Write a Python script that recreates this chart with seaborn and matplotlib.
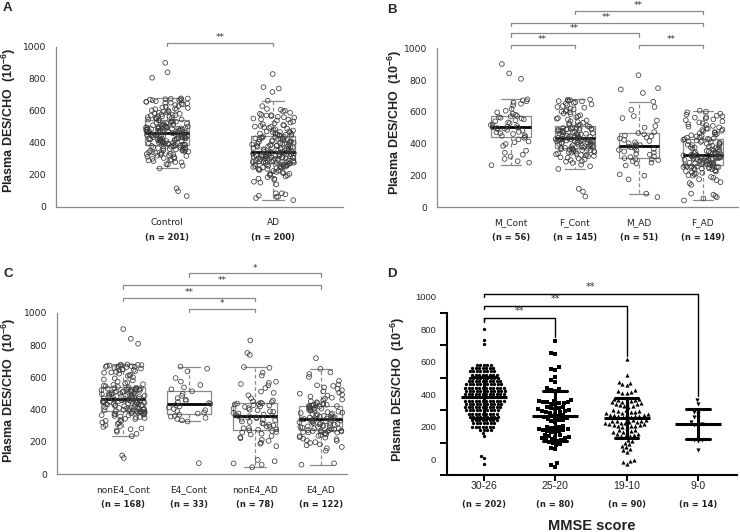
import warnings
import numpy as np
import pandas as pd
import matplotlib
matplotlib.use("Agg")
import matplotlib.pyplot as plt
import seaborn as sns

warnings.filterwarnings("ignore")

# ---------------------------------------------------------------
# values (plasma DES/CHO, x 10^-6)
# ---------------------------------------------------------------
sex_groups = ["M_Cont", "F_Cont", "M_AD", "F_AD"]
apoe_groups = ["nonE4_Cont", "E4_Cont", "nonE4_AD", "E4_AD"]
dx_groups = ["Control", "AD"]
mmse_groups = ["30-26", "25-20", "19-10", "9-0"]

M_CONT = [265, 281, 290, 304, 319, 331, 343, 356, 386, 398, 409, 414, 427, 437,
          443, 449, 453, 461, 466, 471, 474, 483, 487, 492, 495, 498, 501, 503,
          506, 511, 517, 521, 529, 534, 541, 547, 553, 559, 563, 567, 571, 575,
          582, 589, 597, 607, 619, 641, 651, 658, 667, 673, 679, 808, 842, 901]
F_CONT = [68, 99, 116, 241, 258, 268, 279, 287, 291, 297, 301, 306, 312, 314, 321, 323, 326, 329, 331, 334,
          337, 339, 343, 346, 347, 351, 353, 354, 358, 360, 362, 364, 366, 368, 369, 372, 374, 376, 378, 380,
          382, 384, 386, 389, 390, 392, 394, 397, 398, 401, 402, 405, 406, 408, 410, 412, 414, 416, 417, 419,
          420, 421, 422, 424, 425, 426, 427, 428, 429, 431, 433, 434, 436, 438, 441, 443, 444, 446, 448, 451,
          453, 456, 458, 461, 463, 465, 467, 469, 471, 473, 476, 477, 479, 481, 483, 485, 487, 489, 490, 491,
          493, 494, 496, 497, 498, 499, 503, 507, 512, 515, 519, 523, 527, 532, 536, 541, 546, 552, 557, 561,
          567, 573, 579, 586, 591, 597, 602, 604, 611, 616, 622, 627, 631, 637, 643, 647, 652, 657, 661, 666,
          668, 671, 674, 676, 678]
M_AD = [64, 86, 176, 199, 207, 263, 276, 281, 289, 297, 301, 304, 309,
        316, 321, 331, 337, 344, 351, 357, 361, 367, 373, 377, 382, 386,
        391, 396, 403, 409, 417, 424, 433, 439, 446, 451, 459, 467,
        473, 501, 511, 546, 561, 574, 613, 631, 664, 719, 741, 749, 831]
F_AD = [43, 56, 63, 71, 79, 86, 141, 152, 158, 171, 177, 186, 191, 199, 202, 209, 211, 217, 219, 225,
        227, 232, 233, 238, 239, 243, 245, 247, 249, 250, 252, 253, 254, 256, 257, 258, 261, 263, 266, 267,
        269, 272, 273, 276, 277, 280, 281, 284, 285, 288, 289, 291, 294, 295, 298, 299, 302, 303, 305, 307,
        308, 310, 311, 313, 314, 316, 317, 318, 319, 321, 322, 323, 324, 326, 327, 329, 331, 334, 337, 339,
        341, 344, 346, 349, 352, 355, 357, 361, 364, 366, 369, 373, 376, 379, 382, 385, 388, 391, 394, 397,
        399, 402, 406, 409, 411, 415, 418, 421, 424, 427, 429, 431, 434, 438, 441, 446, 449, 453, 457, 461,
        466, 469, 473, 478, 481, 486, 489, 494, 498, 503, 507, 512, 517, 523, 528, 534, 541, 548, 553, 559,
        564, 568, 572, 576, 583, 589, 597, 602, 608]

NONE4_CONT = [101, 117, 236, 251, 263, 271, 279, 284, 293, 297, 303, 311, 317, 321, 328, 331, 336, 342, 344, 348,
              352, 355, 358, 361, 364, 366, 369, 371, 373, 375, 377, 379, 381, 382, 383, 385, 386, 387, 388, 390,
              391, 393, 395, 397, 399, 401, 403, 404, 406, 409, 411, 413, 414, 416, 419, 421, 423, 425, 427, 428,
              430, 432, 434, 435, 437, 439, 441, 442, 444, 446, 447, 449, 450, 452, 453, 454, 455, 456, 457, 458,
              459, 460, 462, 464, 466, 468, 469, 471, 473, 475, 477, 479, 481, 483, 485, 487, 489, 491, 493, 495,
              496, 498, 499, 501, 503, 504, 506, 508, 509, 511, 513, 514, 516, 518, 519, 521, 523, 524, 526, 528,
              530, 531, 533, 534, 536, 538, 541, 545, 549, 554, 558, 563, 569, 574, 581, 587, 594, 601, 609, 616,
              623, 629, 634, 639, 644, 648, 651, 655, 659, 662, 665, 667, 669, 671, 673, 675, 677, 679, 680, 676,
              612, 631, 646, 658, 666, 808, 839, 899]
E4_CONT = [69, 327, 334, 343, 349, 357, 361, 369, 376, 383, 391, 397, 404, 413, 421, 429, 436,
           441, 448, 454, 463, 471, 486, 499, 514, 526, 538, 553, 574, 596, 638, 654, 667]
NONE4_AD = [44, 59, 67, 81, 89, 174, 189, 196, 207, 213, 223, 229, 237, 246, 251, 259, 262, 268, 272, 276,
            278, 285, 287, 294, 296, 303, 306, 313, 317, 324, 327, 334, 337, 343, 347, 351, 353, 358, 359,
            363, 367, 370, 377, 380, 387, 390, 397, 400, 407, 410, 417, 420, 426, 428, 433, 434, 438, 439,
            443, 447, 452, 457, 471, 489, 504, 512, 534, 551, 559, 566, 573, 611, 629, 659, 664, 739, 751, 829]
E4_AD = [59, 68, 146, 161, 169, 179, 185, 194, 199, 207, 210, 217, 220, 227, 230, 236, 238, 244, 246, 252,
         253, 258, 259, 261, 263, 265, 266, 267, 268, 270, 273, 274, 277, 279, 282, 284, 287, 289, 292, 294,
         297, 299, 302, 304, 307, 309, 312, 314, 317, 319, 322, 324, 327, 329, 331, 333, 336, 338, 340, 342,
         344, 346, 347, 349, 351, 353, 355, 358, 361, 364, 367, 370, 373, 376, 379, 382, 385, 388, 391, 394,
         397, 400, 403, 406, 409, 411, 414, 417, 419, 422, 424, 426, 428, 429, 431, 434, 437, 441, 446, 452,
         458, 463, 469, 474, 481, 487, 493, 499, 506, 514, 521, 529, 538, 547, 551, 603, 621, 631, 653, 719,
         556, 578]

# MMSE 30-26 is stacked in rows: row value and number of dots in that row
MMSE_TOP_LEVELS = [800, 735, 705, 580, 560, 540, 520, 500, 480, 460, 440, 420, 400, 380, 360,
                   340, 320, 300, 280, 260, 240, 220, 200, 180, 160, 140, 20, 5, -30]
MMSE_TOP_COUNTS = [1, 1, 1, 5, 7, 8, 8, 9, 10, 11, 12, 12, 12, 12, 12,
                   11, 11, 10, 9, 9, 8, 7, 7, 4, 1, 1, 1, 1, 1]
MMSE_25_20 = [728, 651, 645, 564, 556, 549, 506, 487, 476, 437, 431, 424, 419,
              363, 360, 357, 354, 351, 348, 346, 343, 340, 337,
              322, 319, 316, 312, 309, 305, 301, 298, 295, 292, 289, 286,
              270, 266, 262, 258, 254, 250, 246, 243, 240, 236,
              199, 196, 193, 190, 186, 183, 180, 177, 174, 171, 168, 165,
              148, 145, 141, 138, 135, 131, 128, 124, 121, 118,
              100, 92, 84, 71, 60, 105, 112, -25, -38, -47, 205, 225, 280]
MMSE_19_10 = [613, 517, 476, 468, 461, 455, 425, 418, 411, 404, 408,
              374, 371, 368, 364, 361, 357, 354, 350, 347, 343, 340, 336, 333, 329, 326, 322,
              302, 299, 297, 294, 291, 288, 285, 282, 280, 277, 274, 271, 268, 266, 263, 261, 260, 265,
              240, 237, 235, 232, 229, 227, 224, 221, 219, 216, 213, 211, 208, 206, 203, 201, 199, 238,
              179, 176, 172, 168, 164, 160, 156, 152, 148, 144, 140, 137,
              117, 108, 99, 90, 81, 72, 63, 54, 45, -6, -13, -20, -28, 250, 195]
MMSE_9_0 = [363, 338, 290, 280, 260, 250, 225, 215, 210, 200, 120, 115, 110, 56]

# significance brackets: (left group, right group, star text)
DX_SIG = [(0, 1, "**")]
SEX_SIG = [(0, 1, "**"), (2, 3, "**"), (0, 2, "**"), (0, 3, "**"), (1, 3, "**")]
APOE_SIG = [(1, 2, "*"), (0, 2, "**"), (0, 3, "**"), (1, 3, "*")]
MMSE_SIG = [(0, 3, "**"), (0, 2, "**"), (0, 1, "**")]

# ---------------------------------------------------------------
sns.set_style("white")
plt.rcParams["font.family"] = ["DejaVu Sans"]
plt.rcParams["mathtext.default"] = "regular"

GRAY = "#8a8a8a"
EDGE = "#3c3c3c"
ARIAL = ["Liberation Sans", "DejaVu Sans"]
YLABEL = "Plasma DES/CHO  (10$^{-6}$)"
PX = 0.72  # points per pixel at 100 dpi


def long_df(names, lists):
    return pd.DataFrame({"group": np.repeat(names, [len(v) for v in lists]),
                         "value": np.concatenate([np.asarray(v, float) for v in lists])})


def group_labels(ax, names, ns, first_dy, second_dy, size1=6.5, size2=6.0, fam=None):
    for i, (name, n) in enumerate(zip(names, ns)):
        ax.annotate(name, xy=(i, 0), xycoords=("data", "axes fraction"),
                    xytext=(0, -first_dy * PX), textcoords="offset points",
                    ha="center", va="center", fontsize=size1, color="#222222",
                    family=fam or ["DejaVu Sans"])
        ax.annotate(f"(n = {n})", xy=(i, 0), xycoords=("data", "axes fraction"),
                    xytext=(0, -second_dy * PX), textcoords="offset points",
                    ha="center", va="center", fontsize=size2, fontweight="bold",
                    color="#222222", family=["DejaVu Sans"])


def box_panel(ax, names, lists, width, jitter, ymax, xlim, sig, sig_y, label_xy):
    df = long_df(names, lists)
    sns.boxplot(data=df, x="group", y="value", order=names, width=width,
                showfliers=False, fill=False, color=GRAY, linewidth=0.9, whis=1.5,
                medianprops=dict(color="black", linewidth=2.0),
                whiskerprops=dict(linestyle=(0, (3, 2))), ax=ax)
    sns.stripplot(data=df, x="group", y="value", order=names, jitter=jitter,
                  size=3.4, color="white", edgecolor=EDGE, linewidth=0.55, ax=ax)
    for coll in ax.collections:
        coll.set_facecolor("none")

    ax.set_xlim(*xlim)
    ax.set_ylim(0, ymax)
    ax.set_yticks(range(0, 1001, 200))
    ax.tick_params(axis="y", length=0, pad=7, labelsize=6.6, labelcolor="#222222")
    ax.tick_params(axis="x", length=2.5, width=0.8, color=GRAY, labelbottom=False)
    for s in ["top", "right"]:
        ax.spines[s].set_visible(False)
    for s in ["left", "bottom"]:
        ax.spines[s].set_color(GRAY)
        ax.spines[s].set_linewidth(0.9)
    ax.spines["left"].set_bounds(0, 1000)
    ax.set_xlabel("")
    ax.set_ylabel(YLABEL, fontsize=9, fontweight="bold", family=ARIAL, color="#222222")
    ax.yaxis.set_label_coords(*label_xy)
    group_labels(ax, names, [len(v) for v in lists], 15.5, 30.5)

    for (a, b, txt), y in zip(sig, sig_y):
        ax.plot([a, a, b, b], [y - 20, y, y, y - 20], color=GRAY, lw=0.9, clip_on=False)
        ax.text((a + b) / 2, y + 4, txt, ha="center", va="bottom", fontsize=6.5,
                color="#333333")


fig = plt.figure(figsize=(7.4, 5.32), dpi=100)

# A
axA = fig.add_axes([56 / 740, 1 - 207 / 532, 287 / 740, 176 / 532])
box_panel(axA, dx_groups, [M_CONT + F_CONT, M_AD + F_AD], 0.41, 0.2, 1100,
          (-1.05, 1.66), DX_SIG, [1027], (-0.132, 0.49))

# B
axB = fig.add_axes([437 / 740, 1 - 207.3 / 532, 301 / 740, 206.7 / 532])
box_panel(axB, sex_groups, [M_CONT, F_CONT, M_AD, F_AD], 0.62, 0.31, 1300,
          (-1.15, 3.55), SEX_SIG, [1021, 1021, 1094, 1160, 1236], (-0.110, 0.41))

# C
axC = fig.add_axes([56.7 / 740, 1 - 474.3 / 532, 290.3 / 740, 210 / 532])
box_panel(axC, apoe_groups, [NONE4_CONT, E4_CONT, NONE4_AD, E4_AD], 0.66, 0.33, 1300,
          (-1.01, 3.4), APOE_SIG, [1025, 1093, 1170, 1244], (-0.133, 0.40))

# D
axD = fig.add_axes([447.3 / 740, 1 - 475.3 / 532, 289.4 / 740, 191 / 532])
mmse_top = np.repeat(MMSE_TOP_LEVELS, MMSE_TOP_COUNTS)
mmse_lists = [mmse_top, MMSE_25_20, MMSE_19_10, MMSE_9_0]
mmse_markers = ["o", "s", "^", "v"]
mmse_sizes = [2.4, 2.9, 3.0, 3.0]
for name, vals, mk, sz in zip(mmse_groups, mmse_lists, mmse_markers, mmse_sizes):
    sns.swarmplot(x=[name] * len(vals), y=np.asarray(vals, float), order=mmse_groups,
                  marker=mk, size=sz, color="black", linewidth=0, ax=axD)
df_d = long_df(mmse_groups, mmse_lists)
sns.pointplot(data=df_d, x="group", y="value", order=mmse_groups, errorbar="sd",
              capsize=0.33, color="black", marker="_", markersize=33,
              markeredgewidth=2.2, linestyle="none", err_kws={"linewidth": 2.2},
              zorder=6, ax=axD)

axD.set_xlim(-0.51, 3.54)
axD.set_ylim(-100, 1075)
axD.set_yticks(range(0, 1001, 200))
axD.set_yticks(range(-100, 901, 200), minor=True)
axD.tick_params(axis="y", which="major", length=0, pad=8, labelsize=6.8)
axD.tick_params(axis="y", which="minor", length=5, width=1.4, color="black", left=True)
axD.tick_params(axis="x", length=4, width=1.4, color="black", bottom=True, labelbottom=False)
for lab in axD.get_yticklabels():
    lab.set_family(ARIAL)
for s in ["top", "right"]:
    axD.spines[s].set_visible(False)
for s in ["left", "bottom"]:
    axD.spines[s].set_color("black")
    axD.spines[s].set_linewidth(1.5)
axD.spines["left"].set_bounds(-100, 900)
axD.set_xlabel("")
axD.set_ylabel(YLABEL, fontsize=9, fontweight="bold", family=ARIAL, color="#222222")
axD.yaxis.set_label_coords(-0.139, 0.45)
group_labels(axD, mmse_groups, [len(v) for v in mmse_lists], 11, 28.7,
             size1=7.6, size2=6.0, fam=ARIAL)
axD.annotate("MMSE score", xy=(0.5, 0), xycoords="axes fraction",
             xytext=(0, -50.7 * PX), textcoords="offset points", ha="center", va="center",
             fontsize=10.5, fontweight="bold", family=ARIAL, color="#222222")

mmse_tops = [1013, 941, 869]
for (a, b, txt), y in zip(MMSE_SIG, mmse_tops):
    end = max(mmse_lists[b]) + 22
    axD.plot([a, a, b, b], [y - 16, y, y, end], color="black", lw=1.0, clip_on=False)
    axD.text((a + b) / 2, y + 12, txt, ha="center", va="bottom", fontsize=7, color="#333333")
axD.plot([0, 0], [mmse_tops[-1], max(mmse_top) + 45], color="black", lw=1.0)

for txt, x, y in [("A", 3, 2), ("B", 387, 4), ("C", 3, 268), ("D", 387, 268)]:
    fig.text(x / 740, 1 - y / 532, txt, ha="left", va="top", fontsize=9.5,
             fontweight="bold", family=ARIAL)

fig.savefig("out.png", dpi=100)
